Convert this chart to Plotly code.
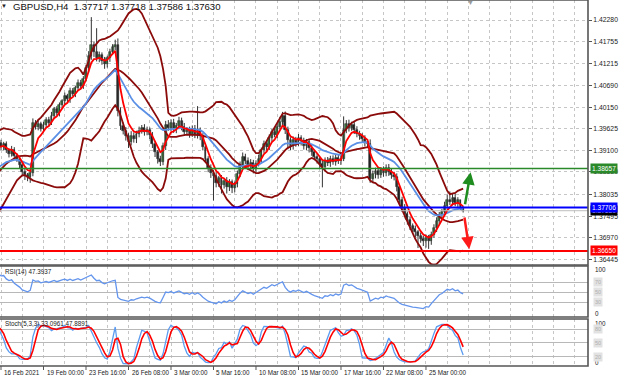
import numpy as np
import pandas as pd
import plotly.graph_objects as go

# ---------------- data ----------------
symbol_title = "GBPUSD,H4  1.37717 1.37718 1.37586 1.37630"

# warm-up bars that lie just left of the visible window (needed by the indicators)
warm_open_first = 1.3765
warm_close = [1.3772, 1.3790, 1.3785, 1.3801, 1.3818, 1.3810, 1.3829, 1.3842, 1.3835, 1.3848,
              1.3866, 1.3880, 1.3871, 1.3889, 1.3902, 1.3915, 1.3908, 1.3922, 1.3935, 1.3928]
warm_up_wick = [6, 8, 5, 9, 7, 6, 8, 5, 7, 9, 6, 7, 8, 5, 9, 6, 7, 8, 6, 7]
warm_lo_wick = [7, 5, 8, 6, 9, 7, 6, 8, 5, 7, 8, 6, 9, 7, 5, 8, 6, 7, 9, 6]

# visible H4 closes, 16 Feb 08:00 ... 26 Mar
close = [
    1.3918, 1.3925, 1.3910, 1.3902, 1.3912, 1.3896, 1.3888, 1.3875, 1.3858, 1.3850,
    1.3846, 1.3855, 1.3978, 1.3968, 1.3975, 1.3962, 1.3972, 1.3985, 1.3978, 1.3995,
    1.4010, 1.4002, 1.4020, 1.4030, 1.4042, 1.4035, 1.4055, 1.4048, 1.4062, 1.4075,
    1.4068, 1.4085, 1.4110, 1.4140, 1.4168, 1.4150, 1.4135, 1.4142, 1.4128, 1.4120,
    1.4135, 1.4150, 1.4162, 1.4168, 1.4005, 1.3970, 1.3958, 1.3945, 1.3930, 1.3945,
    1.3938, 1.3950, 1.3958, 1.3965, 1.3955, 1.3960, 1.3948, 1.3925, 1.3905, 1.3890,
    1.3882, 1.3920, 1.3972, 1.3965, 1.3978, 1.3962, 1.3970, 1.3982, 1.3968, 1.3955,
    1.3960, 1.3950, 1.3962, 1.3948, 1.3958, 1.3945, 1.3918, 1.3890, 1.3868, 1.3855,
    1.3848, 1.3830, 1.3842, 1.3825, 1.3836, 1.3820, 1.3832, 1.3818, 1.3828, 1.3852,
    1.3875, 1.3895, 1.3885, 1.3872, 1.3880, 1.3865, 1.3878, 1.3890, 1.3910, 1.3925,
    1.3918, 1.3940, 1.3955, 1.3948, 1.3968, 1.3980, 1.3995, 1.3960, 1.3935, 1.3920,
    1.3935, 1.3928, 1.3940, 1.3932, 1.3920, 1.3930, 1.3915, 1.3905, 1.3895, 1.3888,
    1.3878, 1.3870, 1.3885, 1.3880, 1.3890, 1.3882, 1.3892, 1.3885, 1.3890, 1.3960,
    1.3975, 1.3965, 1.3972, 1.3960, 1.3950, 1.3945, 1.3938, 1.3930, 1.3925, 1.3840,
    1.3852, 1.3860, 1.3850, 1.3862, 1.3855, 1.3868, 1.3858, 1.3850, 1.3845, 1.3820,
    1.3790, 1.3770, 1.3755, 1.3740, 1.3725, 1.3718, 1.3710, 1.3702, 1.3695, 1.3688,
    1.3696, 1.3690, 1.3705, 1.3720, 1.3738, 1.3752, 1.3760, 1.3775, 1.3790, 1.3785,
    1.3795, 1.3782, 1.3788, 1.37717, 1.37630]

# upper / lower wick lengths in pips
up_wick = [
    8, 6, 7, 5, 9, 6, 7, 5, 6, 7,   5, 8, 10, 6, 7, 5, 8, 6, 7, 9,
    6, 8, 7, 5, 9, 6, 8, 7, 6, 8,   7, 6, 9, 12, 67, 8, 58, 9, 7, 10,
    6, 8, 7, 12, 15, 10, 8, 9, 7, 12,   9, 8, 10, 7, 9, 8, 6, 7, 8, 6,
    7, 9, 10, 12, 8, 9, 7, 10, 8, 9,   7, 8, 9, 10, 60, 8, 7, 9, 6, 8,
    7, 9, 6, 8, 7, 9, 8, 7, 6, 9,   8, 10, 7, 8, 9, 7, 8, 10, 7, 9,
    8, 9, 7, 10, 8, 12, 9, 10, 8, 7,   9, 8, 10, 7, 9, 8, 7, 9, 6, 8,
    7, 10, 8, 9, 7, 8, 9, 7, 8, 33,   9, 10, 8, 7, 9, 8, 7, 9, 8, 12,
    9, 8, 10, 7, 9, 8, 9, 7, 8, 9,   8, 7, 9, 6, 8, 7, 9, 6, 8, 7,
    9, 8, 7, 10, 9, 8, 7, 10, 12, 20,   9, 10, 8, 0.1, 0.1]
lo_wick = [
    7, 8, 6, 9, 7, 8, 6, 9, 10, 12,   11, 15, 8, 7, 9, 6, 8, 7, 9, 6,
    8, 7, 9, 6, 8, 7, 9, 6, 8, 7,   9, 8, 7, 10, 9, 12, 8, 10, 9, 11,
    8, 9, 7, 8, 12, 10, 9, 11, 14, 8,   9, 10, 8, 7, 9, 8, 10, 9, 11, 12,
    10, 8, 9, 7, 8, 9, 10, 8, 9, 7,   8, 9, 7, 8, 9, 10, 8, 9, 11, 12,
    60, 10, 9, 20, 8, 15, 9, 12, 10, 8,   7, 9, 8, 10, 9, 11, 8, 7, 9, 6,
    8, 7, 9, 6, 8, 7, 9, 10, 22, 9,   8, 9, 7, 10, 8, 9, 10, 8, 9, 10,
    12, 50, 9, 8, 10, 7, 9, 8, 10, 6,   8, 9, 7, 10, 8, 9, 8, 10, 9, 9,
    8, 10, 9, 7, 9, 8, 10, 9, 8, 10,   9, 10, 8, 11, 9, 10, 12, 30, 10, 11,
    15, 20, 10, 8, 9, 7, 8, 9, 7, 8,   9, 8, 10, 7, 4.4]

time_labels = ["16 Feb 2021", "19 Feb 00:00", "23 Feb 16:00", "26 Feb 08:00", "3 Mar 00:00",
               "5 Mar 16:00", "10 Mar 08:00", "15 Mar 00:00", "17 Mar 16:00", "22 Mar 08:00",
               "25 Mar 00:00"]
bars_per_label = 16

price_ticks = [1.42280, 1.41755, 1.41215, 1.40690, 1.40150, 1.39625, 1.39100,
               1.38580, 1.38035, 1.37495, 1.36970, 1.36445]

resistance = 1.38657
pivot = 1.37706
support = 1.36650
bid = 1.37630

arrow_up_from, arrow_up_to = 1.3775, 1.3857
arrow_dn_from, arrow_dn_to = 1.3750, 1.3669

rsi_text = "RSI(14) 47.3937"
stoch_text = "Stoch(5,3,3) 33.0961 47.8891"

# ---------------- derived series ----------------
C = np.array(warm_close + close)
O = np.r_[warm_open_first, C[:-1]]
H = np.maximum(O, C) + np.array(warm_up_wick + up_wick) / 10000
L = np.minimum(O, C) - np.array(warm_lo_wick + lo_wick) / 10000
xs = np.arange(-len(warm_close), len(close))

s = pd.Series(C)
mid = s.rolling(20).mean()
sd = s.rolling(20).std(ddof=0)
upper, lower = mid + 2 * sd, mid - 2 * sd
ma_blue = s.ewm(span=20, adjust=False).mean()
ma_red = s.ewm(span=5, adjust=False).mean()

d = s.diff()
gain = d.clip(lower=0).ewm(alpha=1 / 14, adjust=False).mean()
loss = (-d.clip(upper=0)).ewm(alpha=1 / 14, adjust=False).mean()
rsi = 100 - 100 / (1 + gain / loss)

hs, ls = pd.Series(H), pd.Series(L)
ll5, hh5 = ls.rolling(5).min(), hs.rolling(5).max()
k = (s - ll5).rolling(3).sum() / (hh5 - ll5).rolling(3).sum() * 100
dline = k.rolling(3).mean()

# ---------------- layout geometry ----------------
PH = 366.0          # plot-area height in px
def fy(px):
    return 1 - px / PH

PX_PER_PRICE = 0.0002438
top_price = price_ticks[0] + 20 * PX_PER_PRICE
bot_price = price_ticks[0] - 245 * PX_PER_PRICE

FONT = "Liberation Sans, Arial, sans-serif"
GRID = "#c6c6c6"

fig = go.Figure()

# candle wicks
wx, wy = [], []
for xi, hi, lo in zip(xs, H, L):
    wx += [xi, xi, None]
    wy += [lo, hi, None]
fig.add_trace(go.Scatter(x=wx, y=wy, mode="lines", line=dict(color="#333333", width=1),
                         hoverinfo="skip", xaxis="x", yaxis="y"))
# candle bodies
body_lo = np.minimum(O, C)
body_h = np.maximum(np.abs(C - O), 0.00004)
body_col = np.where(C >= O, "#3f9a3f", "#1c1c1c")
fig.add_trace(go.Bar(x=xs, y=body_h, base=body_lo, width=0.72,
                     marker=dict(color=body_col, line=dict(color="#2b2b2b", width=0.6)),
                     hoverinfo="skip", xaxis="x", yaxis="y"))

for band in (upper, mid, lower):
    fig.add_trace(go.Scatter(x=xs, y=band, mode="lines",
                             line=dict(color="#8b0a0a", width=1.8), xaxis="x", yaxis="y"))
fig.add_trace(go.Scatter(x=xs, y=ma_blue, mode="lines",
                         line=dict(color="#5a8fe6", width=1.8), xaxis="x", yaxis="y"))
fig.add_trace(go.Scatter(x=xs, y=ma_red, mode="lines",
                         line=dict(color="#ff0000", width=1.8), xaxis="x", yaxis="y"))
fig.add_trace(go.Scatter(x=xs, y=rsi, mode="lines",
                         line=dict(color="#6495ed", width=1.3), xaxis="x", yaxis="y2"))
fig.add_trace(go.Scatter(x=xs, y=k, mode="lines",
                         line=dict(color="#5b9bf0", width=1.3), xaxis="x", yaxis="y3"))
fig.add_trace(go.Scatter(x=xs, y=dline, mode="lines",
                         line=dict(color="#ff0000", width=1.6), xaxis="x", yaxis="y3"))

shapes = []
# horizontal levels
for lvl, col, w in ((bid, "#bdbdbd", 1), (resistance, "#2a8a2a", 1.5),
                    (pivot, "#0000ff", 2), (support, "#ff0000", 2)):
    shapes.append(dict(type="line", xref="paper", x0=0, x1=1, yref="y", y0=lvl, y1=lvl,
                       line=dict(color=col, width=w)))
# panel borders
for top, bot in ((0, 265), (266, 317), (319, 366)):
    shapes.append(dict(type="rect", xref="paper", yref="paper", x0=-0.02, x1=1,
                       y0=fy(bot), y1=fy(top), line=dict(color="#555555", width=1.6)))
# x tick marks
for i in range(len(time_labels)):
    shapes.append(dict(type="line", xref="x", yref="paper", x0=i * bars_per_label,
                       x1=i * bars_per_label, y0=0, y1=fy(370), line=dict(color="#555", width=1)))

ann = []
ann.append(dict(text="▼", xref="paper", yref="paper", x=4 / 588, y=fy(6), showarrow=False,
                xanchor="center", yanchor="middle", font=dict(size=6, color="#222", family=FONT)))
ann.append(dict(text=symbol_title, xref="paper", yref="paper", x=11 / 588, y=fy(6.5),
                showarrow=False, xanchor="left", yanchor="middle",
                font=dict(size=9.6, color="#111", family=FONT)))
ann.append(dict(text="▼", xref="paper", yref="paper", x=470 / 588, y=fy(2.5), showarrow=False,
                xanchor="center", yanchor="middle", font=dict(size=7, color="#9a9a9a", family=FONT)))
ann.append(dict(text=rsi_text, xref="paper", yref="paper", x=3 / 588, y=fy(271.5),
                showarrow=False, xanchor="left", yanchor="middle",
                font=dict(size=6.3, color="#222", family=FONT)))
ann.append(dict(text=stoch_text, xref="paper", yref="paper", x=3 / 588, y=fy(324),
                showarrow=False, xanchor="left", yanchor="middle",
                font=dict(size=6.3, color="#222", family=FONT)))
for i, t in enumerate(time_labels):
    ann.append(dict(text=t, xref="x", yref="paper", x=i * bars_per_label, y=fy(373),
                    showarrow=False, xanchor="left", yanchor="middle", xshift=1,
                    font=dict(size=6.3, color="#222", family=FONT)))
# price boxes
for lvl, col, txt, fc in ((resistance, "#2a8a2a", "%.5f" % resistance, "white"),
                          (bid, "#000000", "%.5f" % bid, "white"),
                          (pivot, "#0000ff", "%.5f" % pivot, "white"),
                          (support, "#ff0000", "%.5f" % support, "white")):
    ann.append(dict(text=txt, xref="paper", yref="y", x=1, y=lvl, xshift=2, showarrow=False,
                    xanchor="left", yanchor="middle", bgcolor=col, borderpad=1,
                    font=dict(size=6.6, color=fc, family=FONT)))
# indicator scale labels
for txt, px in (("100", 269), ("0", 313), ("100", 323), ("0", 362.5)):
    ann.append(dict(text=txt, xref="paper", yref="paper", x=1, y=fy(px), xshift=5,
                    showarrow=False, xanchor="left", yanchor="middle",
                    font=dict(size=6.3, color="#222", family=FONT)))
for lv in (70, 50, 30):
    ann.append(dict(text=str(lv), xref="paper", yref="y2", x=1, y=lv, xshift=5, showarrow=False,
                    xanchor="left", yanchor="middle", bgcolor="#e2e2e2",
                    font=dict(size=5.5, color="#b0b0b0", family=FONT)))
for lv in (80, 50, 20):
    ann.append(dict(text=str(lv), xref="paper", yref="y3", x=1, y=lv, xshift=5, showarrow=False,
                    xanchor="left", yanchor="middle", bgcolor="#e2e2e2",
                    font=dict(size=5.5, color="#b0b0b0", family=FONT)))
# forecast arrows
last = len(close) - 1
ann.append(dict(text="", xref="x", yref="y", x=last + 2.8, y=arrow_up_to,
                axref="x", ayref="y", ax=last + 0.6, ay=arrow_up_from, showarrow=True,
                arrowhead=2, arrowsize=1, arrowwidth=2.5, arrowcolor="#1f8c1f"))
ann.append(dict(text="", xref="x", yref="y", x=last + 2.3, y=arrow_dn_to,
                axref="x", ayref="y", ax=last + 0.4, ay=arrow_dn_from, showarrow=True,
                arrowhead=2, arrowsize=1, arrowwidth=2.5, arrowcolor="#ff1a1a"))

fig.update_layout(
    width=620, height=381, margin=dict(l=0, r=32, t=0, b=15),
    paper_bgcolor="white", plot_bgcolor="white", showlegend=False, bargap=0,
    font=dict(family=FONT, size=7, color="#222"),
    xaxis=dict(range=[-0.38, 221.0], tickmode="linear", tick0=0, dtick=8,
               showticklabels=False, ticks="", showgrid=True, gridcolor=GRID,
               griddash="dot", gridwidth=1, zeroline=False, anchor="y3", showline=False),
    yaxis=dict(domain=[fy(265), 1], range=[bot_price, top_price], side="right",
               tickvals=price_ticks, ticktext=["%.5f" % v for v in price_ticks],
               tickfont=dict(size=6.8, color="#222", family=FONT), ticks="outside",
               ticklen=3, tickcolor="#555", showgrid=True, gridcolor=GRID, griddash="dot",
               zeroline=False, anchor="x"),
    yaxis2=dict(domain=[fy(317), fy(266)], range=[0, 102], tickvals=[30, 50, 70],
                showticklabels=False, ticks="", showgrid=True, gridcolor="#b8b8b8",
                zeroline=False, anchor="x"),
    yaxis3=dict(domain=[0, fy(319)], range=[-0.4, 102.5], tickvals=[20, 50, 80],
                showticklabels=False, ticks="", showgrid=True, gridcolor="#b8b8b8",
                zeroline=False, anchor="x"),
    shapes=shapes, annotations=ann,
)

fig.write_html("out.html", config={"displayModeBar": False},
               post_script="document.body.style.margin='0px';document.body.style.overflow='hidden';")
